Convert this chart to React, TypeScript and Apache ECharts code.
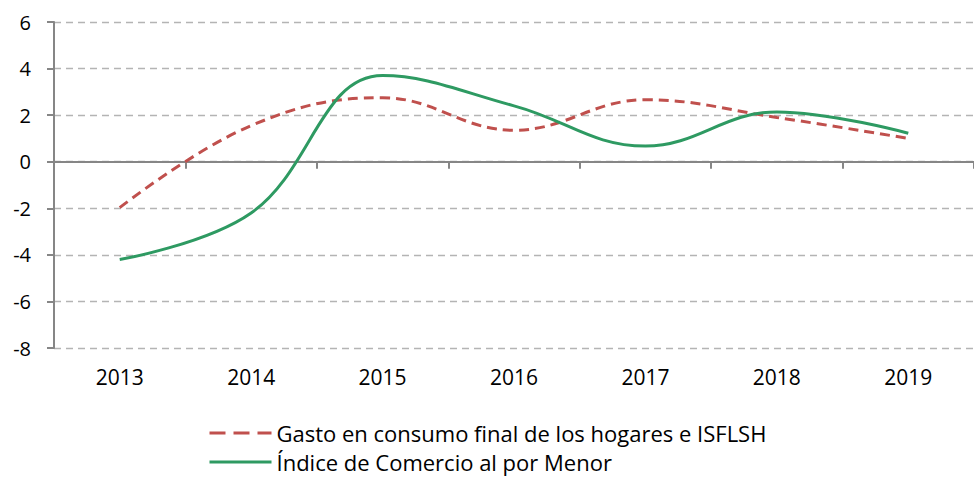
import React, { useEffect, useRef } from "react";
import * as echarts from "echarts";

const categories = ["2013", "2014", "2015", "2016", "2017", "2018", "2019"];
const gastoValues = [-1.97, 1.55, 2.75, 1.35, 2.66, 1.9, 1.0];
const comercioValues = [-4.2, -2.2, 3.7, 2.4, 0.67, 2.14, 1.22];
const gastoName = "Gasto en consumo final de los hogares e ISFLSH";
const comercioName = "Índice de Comercio al por Menor";

const FONT = "'Open Sans', sans-serif";

export default function App() {
  const ref = useRef<HTMLDivElement>(null);
  useEffect(() => {
    if (!ref.current) return;
    const chart = echarts.init(ref.current, undefined, { renderer: "svg" });
    const legendBase = {
      orient: "horizontal",
      left: 203,
      padding: 5,
      itemWidth: 62,
      itemHeight: 14,
      itemGap: 10,
      itemStyle: { opacity: 0 },
      textStyle: { fontSize: 22, color: "#000", fontFamily: FONT, lineHeight: 22 },
    };
    chart.setOption({
      animation: false,
      backgroundColor: "#ffffff",
      textStyle: { fontFamily: FONT },
      grid: { left: 54, right: -13, top: 22, bottom: 131, containLabel: false },
      legend: [
        { ...legendBase, top: 417, data: [gastoName], lineStyle: { type: [16, 8], width: 3 } },
        { ...legendBase, top: 446, data: [comercioName], lineStyle: { width: 3 } },
      ],
      xAxis: [
        {
          type: "category",
          data: categories,
          boundaryGap: true,
          axisLine: { show: true, onZero: true, lineStyle: { color: "#868686", width: 2 } },
          axisTick: { show: true, length: 7, lineStyle: { color: "#868686", width: 2 } },
          axisLabel: { show: false },
          splitLine: { show: false },
        },
        {
          type: "category",
          data: categories,
          position: "bottom",
          boundaryGap: true,
          axisLine: { show: false, onZero: false },
          axisTick: { show: false },
          axisLabel: { show: true, margin: 18, fontSize: 21, color: "#000", fontFamily: FONT },
          splitLine: { show: false },
        },
      ],
      yAxis: {
        type: "value",
        min: -8,
        max: 6,
        interval: 2,
        axisLine: { show: true, lineStyle: { color: "#868686", width: 2 } },
        axisTick: { show: true, length: 7, lineStyle: { color: "#868686", width: 2 } },
        axisLabel: { margin: 23, fontSize: 20, color: "#000", fontFamily: FONT },
        splitLine: { show: true, lineStyle: { color: "#b4b4b4", width: 1.3, type: [7, 5] } },
      },
      series: [
        {
          name: gastoName,
          type: "line",
          xAxisIndex: 0,
          data: gastoValues,
          smooth: 0.4,
          symbol: "none",
          lineStyle: { color: "#c0504d", width: 3, type: [10, 6] },
          itemStyle: { color: "#c0504d" },
        },
        {
          name: comercioName,
          type: "line",
          xAxisIndex: 0,
          data: comercioValues,
          smooth: 0.4,
          symbol: "none",
          lineStyle: { color: "#2e9a62", width: 3 },
          itemStyle: { color: "#2e9a62" },
        },
      ],
    });
    return () => chart.dispose();
  }, []);
  return <div ref={ref} style={{ width: 974, height: 479, position: "absolute", left: 0, top: 0 }} />;
}
